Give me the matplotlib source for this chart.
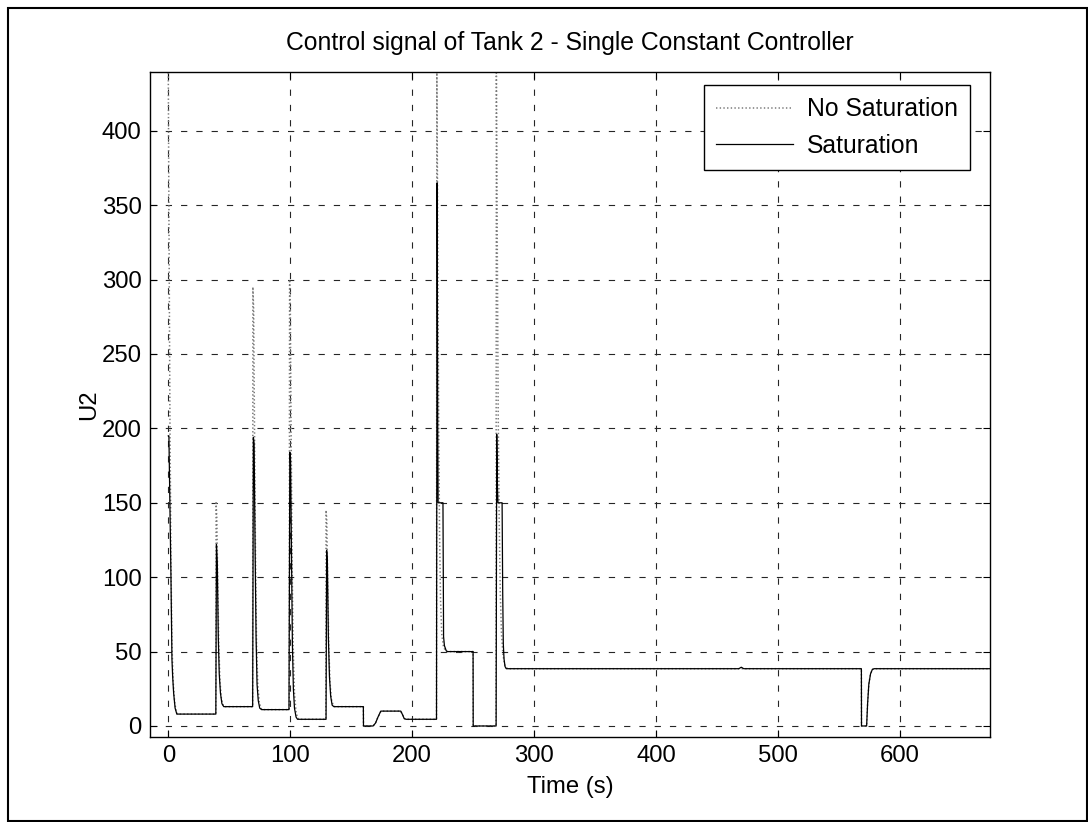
import matplotlib
matplotlib.use("Agg")
import matplotlib.pyplot as plt
from matplotlib.patches import Rectangle

plt.rcParams['font.family'] = ['Liberation Sans', 'DejaVu Sans']
plt.rcParams['lines.scale_dashes'] = False

# Control signal U2 without saturation (dotted)
t_nosat = [0.0, 0.6, 1.4, 2.2, 3.0, 4.0, 5.2, 6.5, 7.5, 39.0,
           39.2, 39.8, 40.6, 41.4, 42.4, 43.6, 45.0, 46.0, 69.2,
           69.4, 70.0, 70.8, 71.6, 72.4, 73.4, 74.6, 76.0, 77.0, 99.2,
           99.5, 100.1, 100.9, 101.7, 102.5, 103.5, 104.7, 106.0, 107.0, 129.2,
           129.4, 130.0, 130.8, 131.6, 132.6, 133.8, 135.2, 136.5, 160.0,
           160.1, 168.0, 170.0, 172.0, 174.5, 190.5, 192.0, 193.5, 195.0, 220.0,
           220.3, 221.0, 221.8, 222.5, 223.3, 224.3, 225.6, 227.0, 228.5, 250.0,
           250.1, 268.8,
           269.1, 269.8, 270.6, 271.4, 272.3, 273.3, 274.5, 276.0, 277.5, 278.5, 568.5,
           568.6, 572.8, 573.6, 574.6, 576.0, 577.5, 579.0, 674.0]
u_nosat = [439, 330, 200, 110, 55, 30, 16, 10, 8, 8,
           150, 140, 95, 55, 30, 18, 14, 13, 13,
           295, 280, 190, 110, 55, 28, 16, 12, 11, 11,
           300, 280, 180, 100, 50, 22, 10, 5.5, 4.5, 4.5,
           145, 138, 95, 55, 30, 18, 14, 13, 13,
           0, 0, 2, 6, 10, 10, 8, 5, 4.5, 4.5,
           439, 330, 200, 130, 85, 62, 54, 51, 50, 50,
           0, 0,
           439, 330, 210, 140, 90, 62, 48, 41, 39, 38.5, 38.5,
           0, 0, 15, 28, 35, 38, 38.5, 38.5]

# Control signal U2 with saturation (solid)
t_sat = [0.0, 0.5, 1.3, 2.2, 3.0, 3.6, 4.4, 5.6, 7.0, 39.0,
         39.5, 40.2, 41.0, 41.8, 42.8, 44.0, 45.5, 69.2,
         69.8, 70.4, 71.2, 72.0, 72.8, 73.8, 75.0, 76.5, 99.0,
         99.7, 100.3, 101.0, 101.8, 102.6, 103.5, 104.8, 106.0, 129.4,
         129.9, 130.5, 131.3, 132.2, 133.2, 134.4, 135.8, 160.0,
         160.1, 168.0, 170.0, 172.0, 174.3, 190.7, 192.2, 193.5, 195.0, 220.0,
         220.5, 221.0, 221.3, 225.3, 225.8, 226.5, 228.0, 229.0, 250.0,
         250.1, 268.9,
         269.4, 270.0, 270.4, 273.8, 274.3, 274.8, 275.4, 276.2, 277.2, 468.0, 470.0, 472.0, 568.5,
         568.6, 572.8, 573.6, 574.6, 576.0, 577.5, 579.0, 674.0]
u_sat = [195, 195, 150, 100, 45, 33, 22, 12, 8, 8,
         122, 110, 60, 35, 22, 15, 13, 13,
         194, 190, 120, 60, 28, 17, 12, 11, 11,
         184, 178, 120, 55, 25, 12, 6, 4.5, 4.5,
         118, 110, 60, 33, 20, 14, 13, 13,
         0, 0, 2, 6, 10, 10, 7.5, 5, 4.5, 4.5,
         365, 200, 150, 150, 60, 54, 50.5, 50, 50,
         0, 0,
         196, 160, 150, 150, 90, 55, 45, 40, 38.5, 38.5, 39.5, 38.5, 38.5,
         0, 0, 15, 28, 35, 38, 38.5, 38.5]

x_ticks = [0, 100, 200, 300, 400, 500, 600]
y_ticks = [0, 50, 100, 150, 200, 250, 300, 350, 400]

W, H = 1088, 822
fig = plt.figure(figsize=(W / 100, H / 100), dpi=100)
ax = fig.add_axes([150 / W, 1 - 737 / H, 840 / W, 665 / H])

ax.plot(t_nosat, u_nosat, linestyle=':', color='#7a7a7a', linewidth=1.1, label='No Saturation')
ax.plot(t_sat, u_sat, linestyle='-', color='black', linewidth=0.9, label='Saturation')

ax.set_xlim(-15, 674)
ax.set_ylim(-7.4, 439.5)
ax.set_xticks(x_ticks)
ax.set_yticks(y_ticks)

ax.grid(True, color='0.15', linewidth=0.8, linestyle=(0, (4.5, 6.5)))
ax.set_axisbelow(True)
ax.tick_params(direction='in', length=5, width=0.8, top=True, right=True,
               labelsize=17.2, pad=6, colors='black')
for s in ax.spines.values():
    s.set_linewidth(1.0)
    s.set_color('black')

ax.set_title('Control signal of Tank 2 - Single Constant Controller', fontsize=17.8, pad=16)
ax.set_xlabel('Time (s)', fontsize=17.2, labelpad=6)
ax.set_ylabel('U2', fontsize=17.2, labelpad=1)

leg = ax.legend(loc='upper right', bbox_to_anchor=((970 - 150) / 840, 1 - (85 - 72) / 665),
                borderaxespad=0, fontsize=17.8, frameon=True, fancybox=False,
                handlelength=3.08, handletextpad=0.57, borderpad=0.5, labelspacing=0.5)
leg.get_frame().set_edgecolor('black')
leg.get_frame().set_linewidth(1.0)
leg.get_frame().set_alpha(1)

# outer figure frame
fig.patches.append(Rectangle((8 / W, 1 / H), (W - 9) / W, (H - 9) / H,
                             transform=fig.transFigure, fill=False,
                             edgecolor='black', linewidth=1.5))

fig.savefig('out.png', dpi=100, facecolor='white')
